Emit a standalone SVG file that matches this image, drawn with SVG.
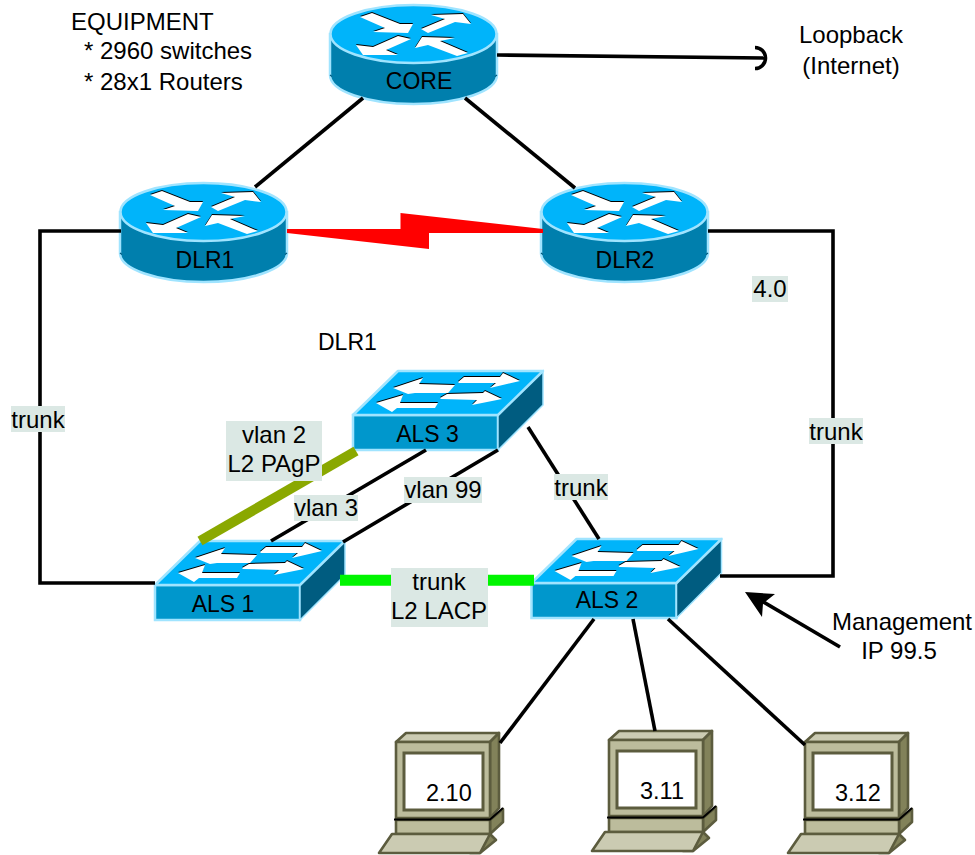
<svg xmlns="http://www.w3.org/2000/svg" width="975" height="855" viewBox="0 0 975 855">
<style>
text{font-family:"Liberation Sans",Arial,sans-serif;font-size:24px;fill:#000}
.n{font-size:23px}
.p{font-size:23.5px}
.m{text-anchor:middle}
.lab{fill:#dbe8e4}
.c{fill:none;stroke:#000;stroke-width:3.6}
.pa{fill:#bcbc9c;stroke:#5c5c3e;stroke-width:2.6;stroke-linejoin:round}
.pl{fill:#cbcbb2;stroke:#5c5c3e;stroke-width:2.6;stroke-linejoin:round}
.pb{fill:#82825a;stroke:#5c5c3e;stroke-width:2.6;stroke-linejoin:round}
</style>
<defs>
<g id="ra">
<path d="M360 17L372 13L400 24L413 24L408 33L373 32L385 28Z"/>
<path d="M421 29L445 19L431 15L463 14L471 24L455 22L428 33Z"/>
<path d="M411 39L398 36L373 47L356 45L363 55L398 55L386 50Z"/>
<path d="M415 48L422 37L455 38L440 41L468 53L457 56L428 45Z"/>
</g>
<g id="sa">
<path d="M393 388L423 378L419 384L455 385L448 393L415 393L408 394Z"/>
<path d="M458 382L464 377L500 377L503 373L520 381L490 388L496 383L459 383Z"/>
<path d="M376 403L403 395L400 403L438 403L435 408L397 408L392 412Z"/>
<path d="M440 398L447 394L483 393L485 391L502 399L472 405L477 400L441 399Z"/>
</g>
<g id="router">
<path d="M330 34V75C330 91 367 104 413.500 104S497 91 497 75V34Z" fill="#007fad" stroke="#a0e4ff" stroke-width="2.500"/>
<path d="M330 75l2 1.500M497 75l-2 1.500" stroke="#005c80" stroke-width="1.200" fill="none"/>
<ellipse cx="413.500" cy="34" rx="83" ry="29" fill="#00b4fa" stroke="#a0e4ff" stroke-width="2.500"/>
<use href="#ra" fill="#000" y="-1"/>
<use href="#ra" fill="#fff"/>
</g>
<g id="switch">
<path d="M353 415H498V450H353Z" fill="#0097cc" stroke="#a0e4ff" stroke-width="2.500"/>
<path d="M498 415L543 371V405L498 450Z" fill="#005c80" stroke="#a0e4ff" stroke-width="1.500"/>
<path d="M353 415L398 371H543L498 415Z" fill="#00b4fa" stroke="#a0e4ff" stroke-width="2.500" stroke-linejoin="round"/>
<use href="#sa" fill="#000" y="-1"/>
<use href="#sa" fill="#fff"/>
</g>
<g id="pc">
<path class="pl" d="M396 742L406 733H499L490 742Z"/>
<path class="pb" d="M490 742L499 733V808L490 818Z"/>
<path class="pa" d="M396 742H490V818H396Z"/>
<path d="M404 753H483V810H404Z" fill="#fff" stroke="#5c5c3e" stroke-width="3"/>
<path class="pb" d="M490 820L503 809V822L490 834Z"/>
<path class="pa" d="M396 820H490V834H396Z"/>
<path d="M394 819.500L490 819.500L503 808" fill="none" stroke="#000" stroke-width="2"/>
<path class="pb" d="M490 834L496 840L480 853H470Z"/>
<path class="pl" d="M392 834H490L480 853H379Z"/>
</g>
</defs>
<g id="core"><use href="#router"/><text class="m n" x="419" y="89">CORE</text></g>
<g id="dlr1"><use href="#router" x="-210" y="178"/><text class="m n" x="205" y="268">DLR1</text></g>
<g id="dlr2"><use href="#router" x="211" y="178"/><text class="m n" x="625" y="268">DLR2</text></g>
<g id="als3"><use href="#switch"/><text class="m n" x="427.500" y="441.500">ALS 3</text></g>
<g id="als1"><use href="#switch" x="-198" y="170"/><text class="m n" x="223" y="612">ALS 1</text></g>
<g id="als2"><use href="#switch" x="178.500" y="168"/><text class="m n" x="607" y="608">ALS 2</text></g>
<g id="pc1"><use href="#pc"/><text class="p" x="426" y="801">2.10</text></g>
<g id="pc2"><use href="#pc" x="213" y="-2"/><text class="p" x="640" y="799">3.11</text></g>
<g id="pc3"><use href="#pc" x="409"/><text class="p" x="835" y="801">3.12</text></g>
<g id="connectors">
<path class="c" d="M363 98L255 187"/>
<path class="c" d="M465 98L575 188"/>
<path class="c" d="M497 55L765 58"/>
<path class="c" d="M755 47.500A10.500 10.500 0 0 1 755 68.500"/>
<path class="c" d="M121 231H40V583H155"/>
<path class="c" d="M708 231H833V576H720"/>
<path class="c" d="M528 427L599 539"/>
<path class="c" d="M426 450L271 541"/>
<path class="c" d="M498 450L343 542"/>
<path d="M356 451L200 541" fill="none" stroke="#8aa800" stroke-width="10"/>
<path d="M340 580.200H534" fill="none" stroke="#00f500" stroke-width="11"/>
<path class="c" d="M594 619L500 743"/>
<path class="c" d="M633 619L655 731"/>
<path class="c" d="M668 619L805 745"/>
<path class="c" d="M840 647L760 600"/>
<path d="M745 592L775 594L763 603.500L762 617Z" fill="#000"/>
<path d="M287 229H400.500V213L543 229V233H429V249L287 233Z" fill="#f00"/>
</g>
<g id="labels">
<text x="71" y="30">EQUIPMENT</text>
<text x="84" y="59">* 2960 switches</text>
<text x="84" y="90">* 28x1 Routers</text>
<text class="m" x="851" y="43">Loopback</text>
<text class="m" x="851" y="74">(Internet)</text>
<text class="n" x="318" y="350">DLR1</text>
<rect class="lab" x="752" y="276" width="36" height="26"/><text class="m" x="770" y="297">4.0</text>
<rect class="lab" x="11" y="406" width="54" height="26"/><text class="m" x="38" y="428">trunk</text>
<rect class="lab" x="809" y="418" width="54" height="26"/><text class="m" x="836" y="440">trunk</text>
<rect class="lab" x="554" y="474" width="54" height="26"/><text class="m" x="581" y="496">trunk</text>
<rect class="lab" x="226" y="421" width="96" height="60"/><text class="m" x="274" y="443">vlan 2</text><text class="m" x="274" y="472">L2 PAgP</text>
<rect class="lab" x="294" y="495" width="64" height="26"/><text class="m" x="326" y="516">vlan 3</text>
<rect class="lab" x="404" y="477" width="78" height="26"/><text class="m" x="443" y="498">vlan 99</text>
<rect class="lab" x="391" y="568" width="97" height="59"/><text class="m" x="439" y="590">trunk</text><text class="m" x="439" y="619">L2 LACP</text>
<text class="m" x="902" y="630">Management</text>
<text class="m" x="899" y="659">IP 99.5</text>
</g>
</svg>
